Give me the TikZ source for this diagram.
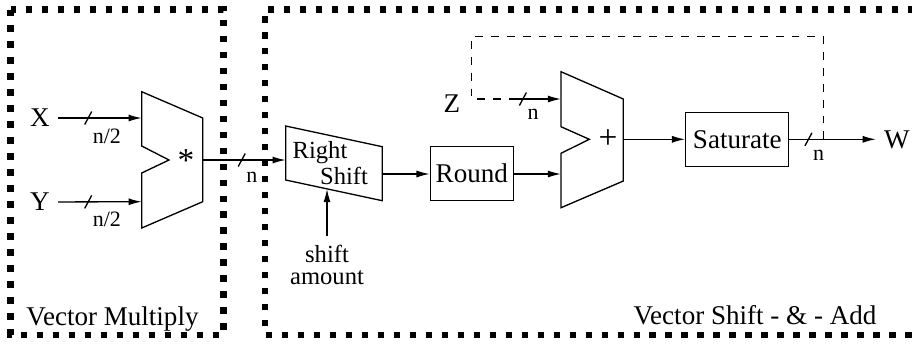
\documentclass[tikz,border=0pt]{standalone}
\usepackage{fontspec}
\setmainfont{Liberation Serif}
\usetikzlibrary{arrows.meta,positioning,calc}

\begin{document}
\begin{tikzpicture}[
    x=0.02cm, y=-0.02cm,
    every node/.style={font=\fontsize{15.4}{17}\selectfont, inner sep=0pt},
    wire/.style={line width=0.75pt},
    sig/.style={wire, -{Latex[length=7.5pt,width=4pt]}},
    blockbox/.style={draw, wire, rectangle, minimum height=1.08cm},
    port/.style={inner xsep=0.16cm},
    op/.style={font=\fontsize{19}{20}\selectfont},
    grp/.style={line width=3.7pt, dash pattern=on 3.7pt off 5.4pt},
    fb/.style={wire, dash pattern=on 4.5pt off 4.5pt},
    wlab/.style={font=\fontsize{12.5}{14}\selectfont, anchor=base west, xshift=0.08cm, yshift=#1},
    wlab/.default=-0.44cm,
    bus/.pic={\draw[wire, -] (-3.5,6.5) -- (3.5,-6.5);}
]
    \path[use as bounding box, clip] (0,0) rectangle (912,343);

    % group outlines
    \draw[grp] (10.5,9.5) rectangle (223.5,335);
    \draw[grp] (930,9.5) -- (265,9.5) -- (265,335) -- (930,335);
    \node[anchor=base] (vm) at (112.5,325) {Vector Multiply};
    \node[anchor=base] (vsa) at (755,324) {Vector Shift - \& - Add};

    % multiplier
    \coordinate (mulA) at (141.7,118);
    \coordinate (mulB) at (141.7,201.7);
    \coordinate (mulOut) at (202.7,160);
    \draw[wire] (141.7,91.7) -- (202.7,118) -- (202.7,201.7) -- (141.7,228)
        -- (141.7,173) -- (169,160) -- (141.7,146) -- cycle;
    \node[op] (mul) at (186,161) {*};

    \node[port] (X) at (40,118) {X};
    \node[port] (Y) at (40,202) {Y};
    \draw[sig] (X) -- (mulA) pic[pos=.36] {bus} node[pos=.36, wlab=-0.5cm] {n/2};
    \draw[sig] (Y) -- (mulB) pic[pos=.36] {bus} node[pos=.36, wlab=-0.5cm] {n/2};

    % right shift
    \coordinate (rsIn) at (285.7,160);
    \coordinate (rsOut) at (382.3,174);
    \coordinate (rsAmt) at (327,188.9);
    \draw[wire] (285.7,126) -- (382.3,146.7) -- (382.3,200.7) -- (285.7,180) -- cycle;
    \node[font=\fontsize{14}{15}\selectfont] (rsA) at (320,153) {Right};
    \node[font=\fontsize{14}{15}\selectfont] (rsB) at (344,176) {Shift};
    \draw[sig] (mulOut) -- (rsIn) pic[pos=.47] {bus} node[pos=.47, wlab] {n};

    \node[align=center, inner sep=0.17cm, font=\fontsize{14}{12.7}\selectfont] (amt) at (327,265) {shift\\amount};
    \draw[sig] (amt) -- (rsAmt);

    % round
    \node[blockbox, minimum width=1.66cm] (round) at (471.8,173.7) {Round};
    \draw[sig] (rsOut) -- (round.west |- rsOut);

    % adder
    \coordinate (addA) at (561,99);
    \coordinate (addB) at (561,174);
    \coordinate (addOut) at (623.3,139.3);
    \draw[wire] (561,71.7) -- (623.3,99) -- (623.3,181) -- (561,207.7)
        -- (561,153.3) -- (589.3,139.3) -- (561,126.7) -- cycle;
    \node[op] (add) at (608,139.5) {+};
    \draw[sig] (round.east |- addB) -- (addB);

    % saturate
    \node[blockbox, minimum width=2.06cm] (sat) at (737.3,139.5) {Saturate};
    \draw[sig] (addOut) -- (sat.west |- addOut);
    \node[port] (W) at (897,140) {W};
    \draw[sig] (sat.east |- addOut) -- (W.west |- addOut) pic[pos=.22] {bus} node[pos=.22, wlab=-0.42cm] {n};

    % feedback to Z
    \coordinate (tap) at (823.3,139.3);
    \coordinate (zc) at (471.7,99);
    \coordinate (zs) at (516.7,99);
    \node (Z) at (452,104) {Z};
    \draw[fb] (tap) -- ++(0,-102.6) -| (zc) -- (zs);
    \draw[sig] (zs) -- (addA) pic[pos=.14] {bus} node[pos=.14, wlab=-0.4cm] {n};
\end{tikzpicture}
\end{document}
